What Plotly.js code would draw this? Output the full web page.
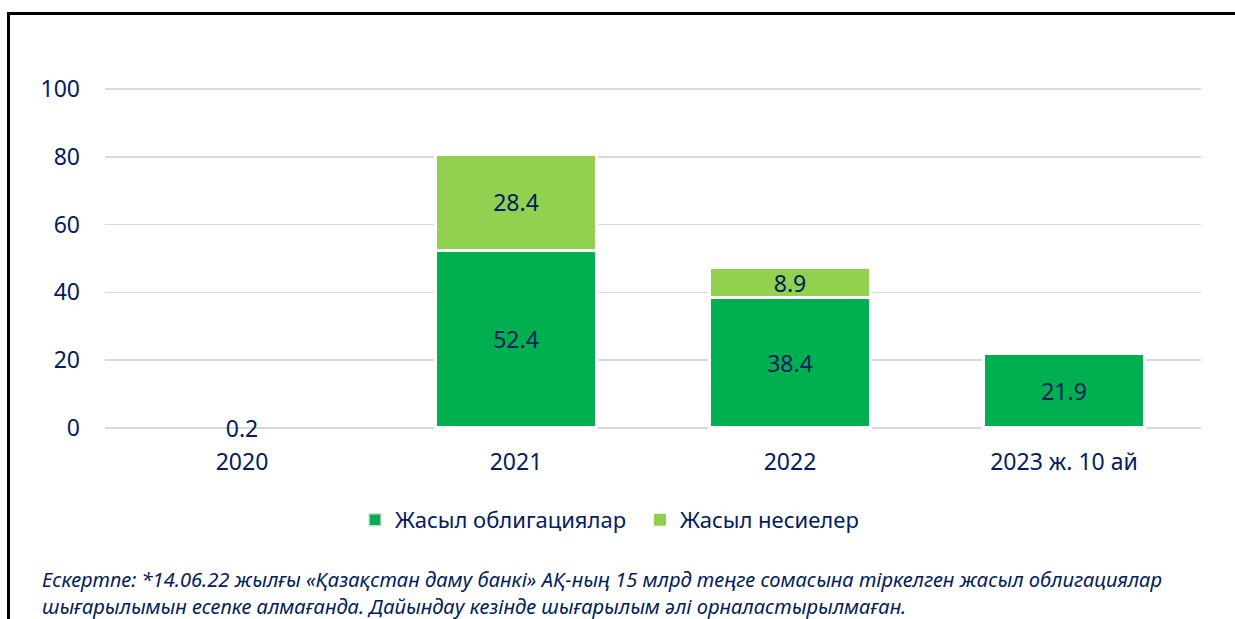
<!DOCTYPE html>
<html>
<head>
<meta charset="utf-8">
<script src="https://cdn.plot.ly/plotly-3.0.1.min.js"></script>
<style>
  html, body { margin: 0; padding: 0; background: #ffffff; }
  #chart { position: absolute; left: 0; top: 0; width: 1235px; height: 619px; }
  #frame { position: absolute; left: 7px; top: 12px; width: 1240px; height: 700px;
           border-left: 3px solid #000; border-top: 3px solid #000; pointer-events: none; }
</style>
</head>
<body>
<div id="chart"></div>
<div id="frame"></div>
<script>
const categories = ['2020', '2021', '2022', '2023 ж. 10 ай'];
const greenBonds = [0.2, 52.4, 38.4, 21.9];
const greenLoans = [0, 28.4, 8.9, 0];
const seriesNames = ['Жасыл облигациялар', 'Жасыл несиелер'];
const yTicks = [0, 20, 40, 60, 80, 100];
const footnoteLines = [
  'Ескертпе: *14.06.22 жылғы «Қазақстан даму банкі» АҚ-ның 15 млрд теңге сомасына тіркелген жасыл облигациялар',
  'шығарылымын есепке алмағанда. Дайындау кезінде шығарылым әлі орналастырылмаған.'
];

const navy = '#002060';
const gridColor = '#d9d9d9';
const mainFont = 'Noto Sans, Open Sans, sans-serif';
const noteFont = 'Noto Sans, Open Sans, sans-serif';

function labels(arr) { return arr.map(v => (v ? v.toFixed(1) : '')); }
// white separators between stacked segments; near-zero bars blend into the zero gridline
function borderWidths(arr) { return arr.map(v => (v >= 1 ? 3 : (v > 0 ? 1.5 : 0))); }
function borderColors(arr) { return arr.map(v => (v >= 1 ? '#ffffff' : gridColor)); }

const traces = [
  {
    type: 'bar', name: seriesNames[0], x: categories, y: greenBonds,
    text: labels(greenBonds), textposition: 'inside', insidetextanchor: 'middle',
    constraintext: 'none', textangle: 0, cliponaxis: false,
    textfont: { family: mainFont, size: 23, color: navy },
    marker: { color: '#00B050', line: { color: borderColors(greenBonds), width: borderWidths(greenBonds) } },
    hoverinfo: 'skip'
  },
  {
    type: 'bar', name: seriesNames[1], x: categories, y: greenLoans,
    text: labels(greenLoans), textposition: 'inside', insidetextanchor: 'middle',
    constraintext: 'none', textangle: 0, cliponaxis: false,
    textfont: { family: mainFont, size: 23, color: navy },
    marker: { color: '#92D050', line: { color: borderColors(greenLoans), width: borderWidths(greenLoans) } },
    hoverinfo: 'skip'
  }
];

// y=0 at pixel 428, y=100 at pixel 89; range padded slightly so edge gridlines show
const pad = 0.6;
const s = (428 - 89) / 100;
const plotLeft = 105, plotRight = 1201;
const plotTop = 89 - pad * s, plotBottom = 428 + pad * s;
const pw = plotRight - plotLeft, ph = plotBottom - plotTop;
const px = p => (p - plotLeft) / pw;
const py = p => (plotBottom - p) / ph;

const annotations = footnoteLines.map((t, i) => ({
  text: t, xref: 'paper', yref: 'paper', x: px(40), y: py(580 + i * 27),
  xanchor: 'left', yanchor: 'middle', showarrow: false, align: 'left',
  font: { family: noteFont, size: 20.1, color: navy, style: 'italic' }
}));

const layout = {
  width: 1235, height: 619,
  margin: { l: plotLeft, r: 1235 - plotRight, t: plotTop, b: 619 - plotBottom, pad: 0 },
  paper_bgcolor: '#ffffff', plot_bgcolor: '#ffffff',
  barmode: 'stack', bargap: 0.41,
  font: { family: mainFont, color: navy, size: 22 },
  xaxis: {
    type: 'category', showgrid: false, zeroline: false, showline: false,
    ticks: '', ticklabelstandoff: 16,
    tickfont: { family: mainFont, size: 23, color: navy }
  },
  yaxis: {
    range: [-pad, 100 + pad], tickvals: yTicks, ticktext: yTicks.map(String),
    showgrid: true, gridcolor: gridColor, gridwidth: 1.5,
    zeroline: false, showline: false, ticks: '', ticklabelstandoff: 24,
    tickfont: { family: mainFont, size: 23, color: navy }
  },
  showlegend: true,
  legend: {
    orientation: 'h', x: px(355), xanchor: 'left', y: py(520), yanchor: 'middle',
    entrywidth: 240, entrywidthmode: 'pixels',
    font: { family: mainFont, size: 22, color: navy }, traceorder: 'normal',
    itemclick: false, itemdoubleclick: false, bgcolor: 'rgba(0,0,0,0)'
  },
  annotations: annotations
};

Plotly.newPlot('chart', traces, layout, { staticPlot: true, displayModeBar: false });
</script>
</body>
</html>
